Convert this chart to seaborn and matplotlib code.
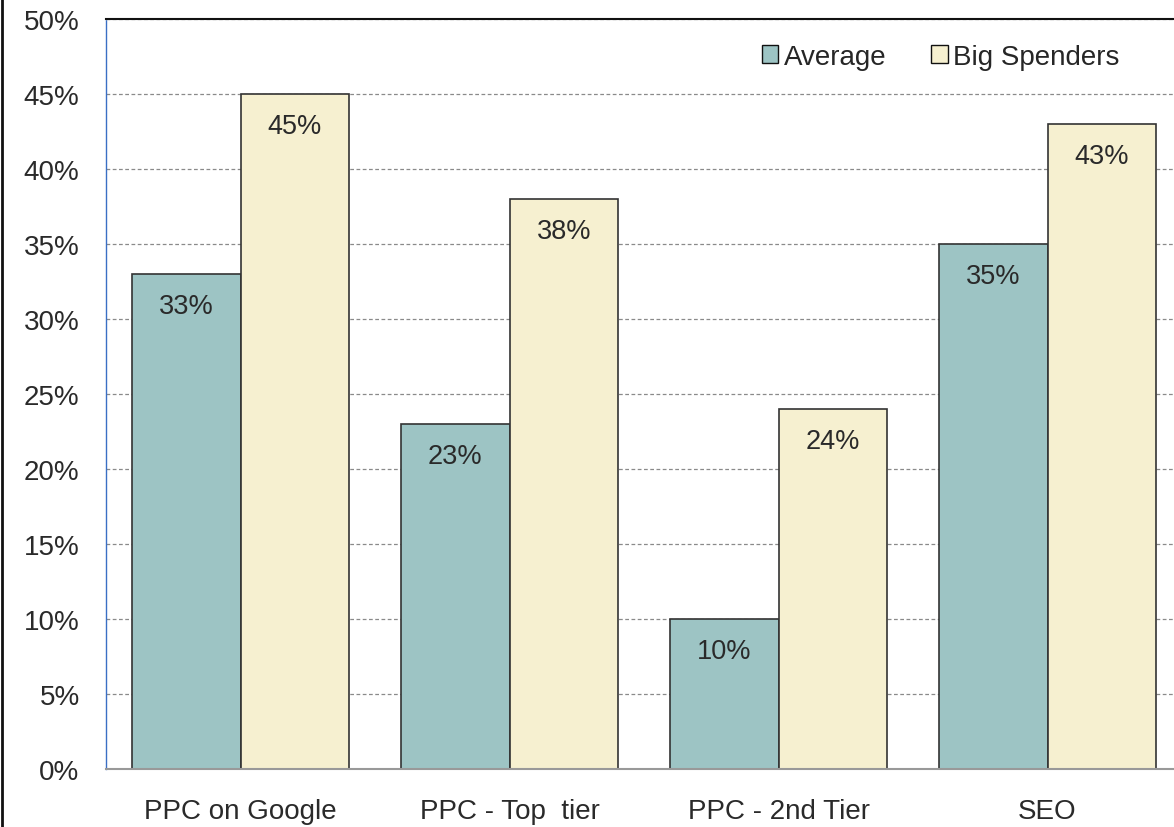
import matplotlib.pyplot as plt
import matplotlib.lines as mlines
import seaborn as sns
import pandas as pd
from matplotlib.ticker import FixedLocator

categories = ["PPC on Google", "PPC - Top  tier", "PPC - 2nd Tier", "SEO"]
average = [33, 23, 10, 35]
big_spenders = [45, 38, 24, 43]
series_names = ["Average", "Big Spenders"]
y_ticks = [0, 5, 10, 15, 20, 25, 30, 35, 40, 45, 50]

df = pd.DataFrame({
    "category": categories * 2,
    "value": average + big_spenders,
    "series": [series_names[0]] * 4 + [series_names[1]] * 4,
})

sns.set_style("white")
plt.rcParams['font.family'] = ['Liberation Sans', 'DejaVu Sans']

fig = plt.figure(figsize=(11.74, 8.28), dpi=100)
ax = fig.add_axes([106 / 1174, 58 / 828, 1076 / 1174, 750 / 828])

colors = {"Average": "#9dc4c4", "Big Spenders": "#f6f0d0"}
sns.barplot(data=df, x="category", y="value", hue="series", palette=colors,
            width=0.81, gap=0, edgecolor="#333333", linewidth=1.2, ax=ax,
            saturation=1)

ax.set_ylim(0, 50)
ax.set_xlim(-0.5, 3.5)
ax.set_yticks(y_ticks)
ax.set_yticklabels([f"{t}%" for t in y_ticks])
ax.yaxis.grid(True, linestyle=(0, (3, 2)), color="#8a8a8a", linewidth=0.9)
ax.set_axisbelow(True)
ax.set_xlabel("")
ax.set_ylabel("")

# bar value labels
for container in ax.containers:
    for bar in container:
        h = bar.get_height()
        ax.annotate(f"{h:.0f}%", (bar.get_x() + bar.get_width() / 2, h),
                    xytext=(0, -23), textcoords="offset points",
                    ha="center", va="center", fontsize=19.5, color="#2a2a2a")

# spines
ax.spines["top"].set_color("#111111")
ax.spines["top"].set_linewidth(1.5)
ax.spines["right"].set_visible(False)
ax.spines["left"].set_color("#3a6fc4")
ax.spines["left"].set_linestyle((0, (2, 1)))
ax.spines["left"].set_linewidth(1.0)
ax.spines["bottom"].set_color("#999999")
ax.spines["bottom"].set_linewidth(1.5)

ax.tick_params(axis="y", which="major", length=4, color="#3a6fc4",
               labelsize=20, labelcolor="#2a2a2a", pad=15)
ax.tick_params(axis="x", which="major", length=0, labelsize=20,
               labelcolor="#2a2a2a", pad=21)
ax.xaxis.set_minor_locator(FixedLocator([-0.5, 0.5, 1.5, 2.5]))
ax.tick_params(axis="x", which="minor", length=6, color="#999999", width=1.2)

handles, labels = ax.get_legend_handles_labels()
leg = ax.legend(handles, labels, loc="upper right", bbox_to_anchor=(0.942, 0.967),
                ncol=2, frameon=False, fontsize=20, handlelength=0.6,
                handleheight=0.6, handletextpad=0.2, columnspacing=1.6,
                borderpad=0, borderaxespad=0)
for lh in leg.legend_handles:
    lh.set_edgecolor("#111111")
    lh.set_linewidth(1.0)

fig.add_artist(mlines.Line2D([2 / 1174, 2 / 1174], [0, 1], color="#111111",
                             linewidth=2.0, transform=fig.transFigure))

fig.savefig("out.png", dpi=100, facecolor="white")
